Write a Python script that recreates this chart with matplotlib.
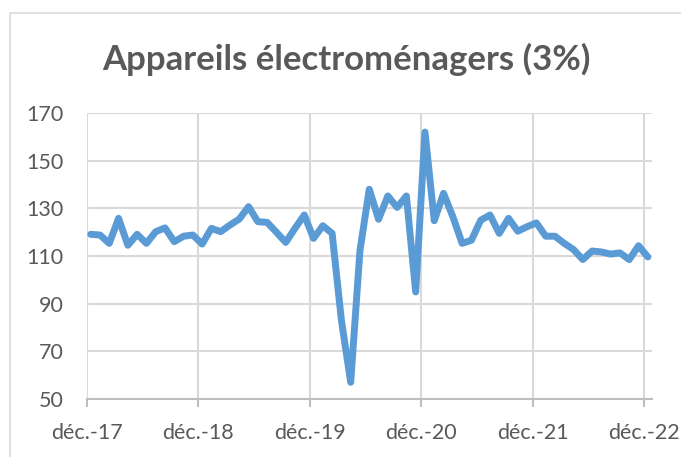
import numpy as np
import matplotlib.pyplot as plt
from matplotlib.patches import Rectangle

# monthly index, déc.-17 .. déc.-22 (61 points)
values = [119.1, 118.8, 115.3, 125.8, 114.5, 119.1, 115.3, 120.2, 121.8, 116.0,
          118.3, 118.8, 115.0, 121.6, 120.2, 123.0, 125.5, 130.7, 124.4, 124.1,
          120.0, 115.7, 121.6, 127.2, 117.4, 122.7, 119.5, 83.0, 57.0, 112.4,
          138.0, 125.4, 135.2, 130.4, 135.2, 94.9, 162.0, 124.8, 136.3, 126.5,
          115.3, 116.6, 125.0, 127.2, 119.5, 125.8, 120.4, 122.3, 123.9, 118.3,
          118.3, 115.3, 112.7, 108.5, 112.1, 111.7, 110.8, 111.3, 108.5, 114.3,
          109.6]
tick_labels = ['déc.-17', 'déc.-18', 'déc.-19', 'déc.-20', 'déc.-21', 'déc.-22']
y_ticks = [50, 70, 90, 110, 130, 150, 170]
title = 'Appareils électroménagers (3%)'

txt = '#595959'
grid = '#d9d9d9'
blue = '#5b9bd5'

plt.rcParams['font.family'] = ['Lato', 'DejaVu Sans']

fig = plt.figure(figsize=(6.81, 4.57), dpi=100)
ax = fig.add_axes([87 / 681, 1 - 399 / 457, (652 - 87) / 681, (399 - 113) / 457])

x = np.arange(len(values))
ax.plot(x, values, color=blue, linewidth=5, solid_joinstyle='round', solid_capstyle='round', zorder=3)

ax.set_ylim(50, 170)
ax.set_yticks(y_ticks)
ax.set_xlim(-0.35, 60.45)
ax.set_xticks(np.arange(0, 61, 12) - 0.4)
ax.set_xticklabels(tick_labels)

ax.grid(True, color=grid, linewidth=1.5, zorder=0)
for s in ['top', 'right', 'left']:
    ax.spines[s].set_visible(False)
ax.spines['bottom'].set_color('#bfbfbf')
ax.spines['bottom'].set_linewidth(1.5)

ax.tick_params(axis='y', length=0, pad=17, labelsize=15.5, labelcolor=txt)
ax.tick_params(axis='x', length=6, width=1.5, color='#bfbfbf', pad=11, labelsize=15.5, labelcolor=txt)

fig.text(0.508, 1 - 69.5 / 457, title, ha='center', va='baseline', fontsize=25,
         fontweight='bold', color=txt)

# chart frame (cropped on right and bottom)
fig.patches.append(Rectangle((10 / 681, -0.05), 1.0, 1 - 13 / 457 + 0.05,
                             transform=fig.transFigure, fill=False,
                             edgecolor=grid, linewidth=1.2))

fig.savefig('out.png', dpi=100)
